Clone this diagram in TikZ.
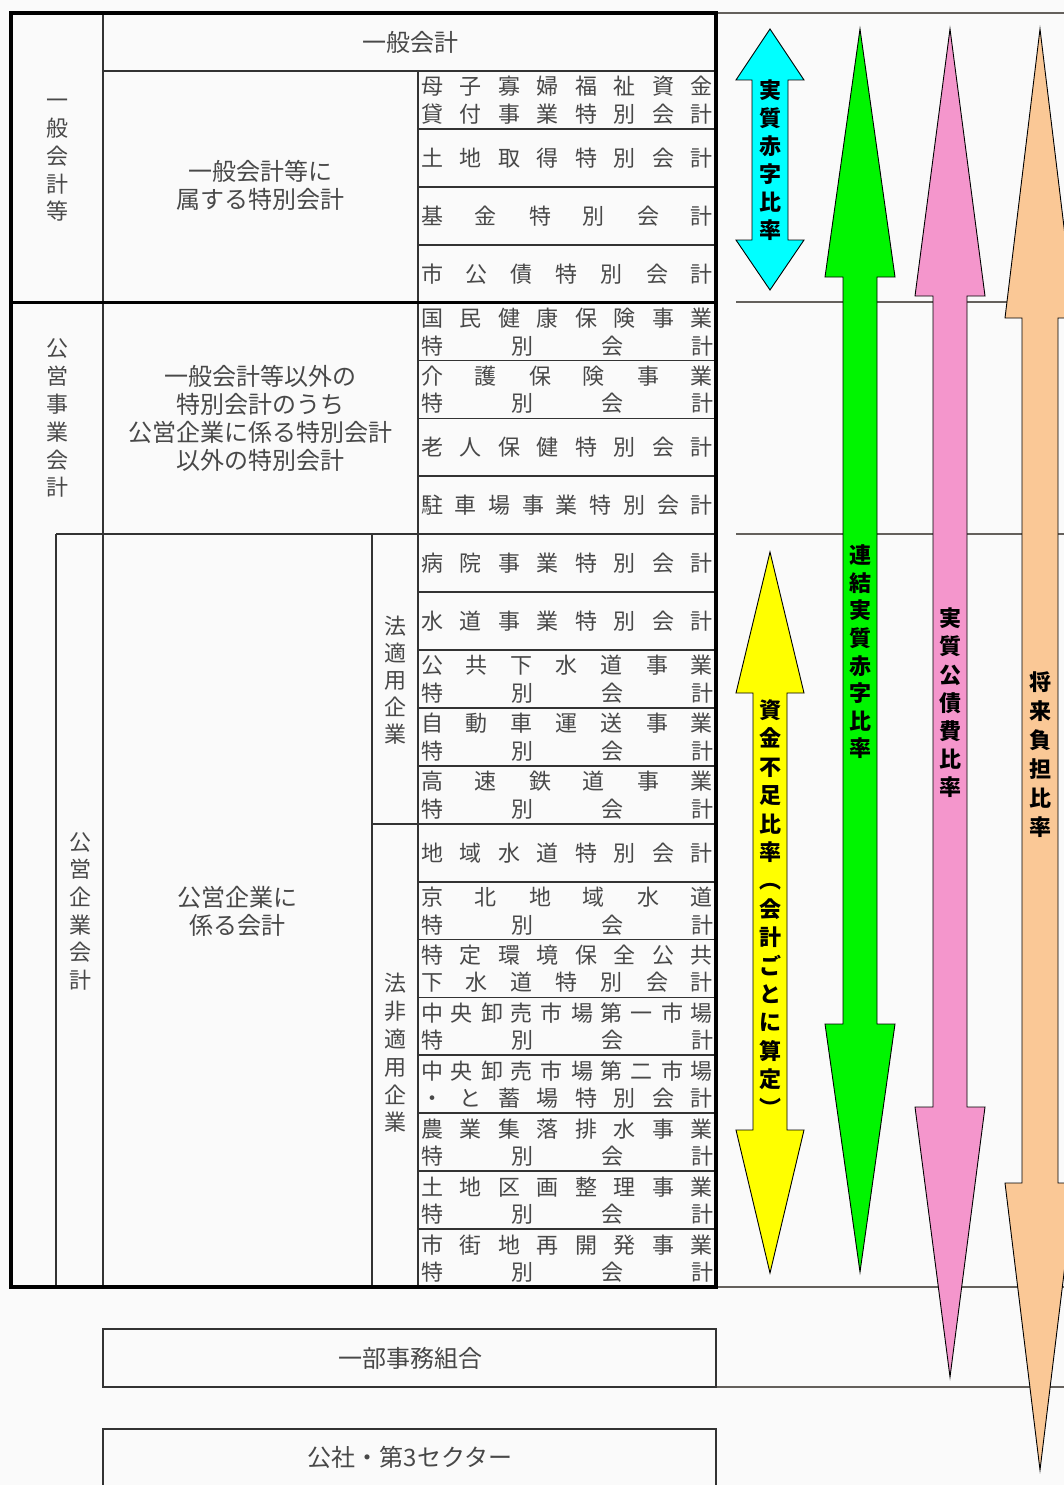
\documentclass[tikz,border=0pt]{standalone}
\usepackage{fontspec}
\setmainfont{Noto Sans CJK JP}
\definecolor{bgc}{RGB}{250,250,250}
\definecolor{txt}{RGB}{72,72,72}
\definecolor{ruleg}{RGB}{100,96,92}
\definecolor{acyan}{RGB}{0,255,255}
\definecolor{agreen}{RGB}{0,245,0}
\definecolor{apink}{RGB}{244,150,204}
\definecolor{aorange}{RGB}{250,200,150}
\definecolor{ayellow}{RGB}{255,255,0}
\makeatletter
\newcommand\distrib[1]{\makebox[292pt][s]{\def\dsep{}\@tfor\dch:=#1\do{\dsep\dch\def\dsep{\hfill}}}}
\newcommand\vstack[2]{\vbox{\offinterlineskip\@tfor\vch:=#2\do{\hbox to 1.2em{\hss\vbox to #1{\vss\hbox{\vrule height 0.88em depth 0.12em width 0pt\vch}\vss}\hss}}}}
\makeatother
\newcommand\cellA[3]{\node[cell] (#1) at (567,{71+(#2+0.5)*57.905}) {\distrib{#3}};}
\newcommand\cellB[4]{\node[cell] (#1a) at (567,{71+#2*57.905+15.5}) {\distrib{#3}};
  \node[cell] (#1b) at (567,{71+#2*57.905+43}) {\distrib{#4}};}
\newcommand\dblarrow[8]{\draw[arr,fill=#8] (#1,#2) -- ({#1+#6},#3) -- ({#1+#7},#3) -- ({#1+#7},#4) -- ({#1+#6},#4) -- (#1,#5) -- ({#1-#6},#4) -- ({#1-#7},#4) -- ({#1-#7},#3) -- ({#1-#6},#3) -- cycle;}
\begin{document}
\begin{tikzpicture}[x=1pt,y=-1pt,
 grid/.style={line width=1.8pt,draw=black!80},
 frame/.style={line width=3.2pt,draw=black},
 side/.style={line width=1.5pt,draw=ruleg},
 arr/.style={line width=0.9pt,draw=black},
 lbl/.style={text=txt,font=\fontsize{24}{28}\selectfont,align=center,inner sep=0pt},
 vlbl/.style={text=txt,font=\fontsize{22}{28}\selectfont,inner sep=0pt},
 cell/.style={text=txt,font=\fontsize{22}{28}\selectfont,inner sep=0pt,text height=19.4pt,text depth=2.6pt},
 atxt/.style={text=black,font=\fontsize{22}{28}\selectfont\bfseries,inner sep=0pt}]
\useasboundingbox (0,0) rectangle (1064,1485);
\fill[bgc] (0,0) rectangle (1064,1485);
% rules to the right of the table
\draw[side] (716,13) -- (1064,13);
\draw[side] (736,302) -- (1064,302);
\draw[side] (736,534) -- (1064,534);
\draw[side] (716,1287) -- (1064,1287);
\draw[side] (716,1387) -- (1064,1387);
% table grid
\draw[grid] (103,13) -- (103,1287);
\draw[grid] (103,71) -- (716,71);
\draw[grid] (418,71) -- (418,1287);
\draw[grid] (56,534.2) -- (716,534.2);
\draw[grid] (56,534.2) -- (56,1287);
\draw[grid] (372,534.2) -- (372,1287);
\draw[grid] (372,823.8) -- (716,823.8);
\foreach \i in {1,...,20} \draw[grid] (418,{71+\i*57.905}) -- (716,{71+\i*57.905});
\draw[frame] (11,302.6) -- (716,302.6);
\draw[frame] (11,13) rectangle (716,1287);
\draw[grid] (103,1329) rectangle (716,1387);
\draw[grid] (103,1429) rectangle (716,1500);
% labels
\node[lbl] (ippan) at (410,42) {一般会計};
\node[lbl] (zokusuru) at (260,185) {一般会計等に\\属する特別会計};
\node[lbl] (igai) at (260,418) {一般会計等以外の\\特別会計のうち\\公営企業に係る特別会計\\以外の特別会計};
\node[lbl] (kakaru) at (237,911) {公営企業に\\係る会計};
\node[lbl] (ichibu) at (410,1358) {一部事務組合};
\node[lbl] (kosha) at (410,1457) {公社・第3セクター};
\node[vlbl] (vippan) at (57,156) {\vstack{27.8pt}{一般会計等}};
\node[vlbl] (vkoei) at (57,418) {\vstack{27.8pt}{公営事業会計}};
\node[vlbl] (vkigyo) at (80,911) {\vstack{27.6pt}{公営企業会計}};
\node[vlbl] (vteki) at (395,680) {\vstack{27pt}{法適用企業}};
\node[vlbl] (vhiteki) at (395,1053) {\vstack{27.8pt}{法非適用企業}};
% cells
\cellB{c0}{0}{母子寡婦福祉資金}{貸付事業特別会計}
\cellA{c1}{1}{土地取得特別会計}
\cellA{c2}{2}{基金特別会計}
\cellA{c3}{3}{市公債特別会計}
\cellB{c4}{4}{国民健康保険事業}{特別会計}
\cellB{c5}{5}{介護保険事業}{特別会計}
\cellA{c6}{6}{老人保健特別会計}
\cellA{c7}{7}{駐車場事業特別会計}
\cellA{c8}{8}{病院事業特別会計}
\cellA{c9}{9}{水道事業特別会計}
\cellB{c10}{10}{公共下水道事業}{特別会計}
\cellB{c11}{11}{自動車運送事業}{特別会計}
\cellB{c12}{12}{高速鉄道事業}{特別会計}
\cellA{c13}{13}{地域水道特別会計}
\cellB{c14}{14}{京北地域水道}{特別会計}
\cellB{c15}{15}{特定環境保全公共}{下水道特別会計}
\cellB{c16}{16}{中央卸売市場第一市場}{特別会計}
\cellB{c17}{17}{中央卸売市場第二市場}{・と蓄場特別会計}
\cellB{c18}{18}{農業集落排水事業}{特別会計}
\cellB{c19}{19}{土地区画整理事業}{特別会計}
\cellB{c20}{20}{市街地再開発事業}{特別会計}
% arrows
\dblarrow{770}{29}{80}{240}{290}{34}{18}{acyan}
\dblarrow{860}{29}{277}{1024}{1272}{35}{17}{agreen}
\dblarrow{950}{29}{296}{1107}{1377}{35}{17}{apink}
\dblarrow{1040}{29}{318}{1183}{1470}{35}{18}{aorange}
\dblarrow{770}{552}{693}{1130}{1273}{34}{17}{ayellow}
\node[atxt] (tcyan) at (770,160) {\vstack{28pt}{実質赤字比率}};
\node[atxt] (tgreen) at (860,652) {\vstack{27.6pt}{連結実質赤字比率}};
\node[atxt] (tpink) at (950,703) {\vstack{28.2pt}{実質公債費比率}};
\node[atxt] (torange) at (1040,755) {\vstack{29pt}{将来負担比率}};
\node[atxt] (tyellow) at (770,909) {\vstack{28.4pt}{資金不足比率︵会計ごとに算定︶}};
\end{tikzpicture}
\end{document}
